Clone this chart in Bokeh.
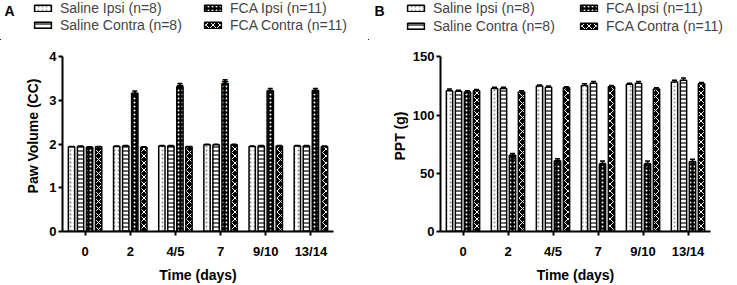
from bokeh.plotting import figure
from bokeh.models import (ColumnDataSource, Range1d, Legend, LegendItem, Whisker,
                          FixedTicker, Label, TeeHead)
from bokeh.layouts import row, column
from bokeh.core.properties import value
from bokeh.embed import file_html
from bokeh.resources import INLINE

# ---------------- data ----------------
time_labels = ["0", "2", "4/5", "7", "9/10", "13/14"]
series_names = ["Saline Ipsi (n=8)", "Saline Contra (n=8)", "FCA Ipsi (n=11)", "FCA Contra (n=11)"]

# Panel A: Paw volume (CC)
paw_saline_ipsi = [1.94, 1.95, 1.96, 1.99, 1.95, 1.96]
paw_saline_contra = [1.95, 1.96, 1.96, 1.99, 1.96, 1.96]
paw_fca_ipsi = [1.93, 3.17, 3.32, 3.39, 3.22, 3.23]
paw_fca_contra = [1.94, 1.93, 1.94, 1.99, 1.96, 1.95]
paw_saline_ipsi_err = [0.01, 0.01, 0.01, 0.01, 0.01, 0.01]
paw_saline_contra_err = [0.01, 0.01, 0.01, 0.01, 0.01, 0.01]
paw_fca_ipsi_err = [0.01, 0.05, 0.07, 0.09, 0.06, 0.05]
paw_fca_contra_err = [0.01, 0.01, 0.01, 0.01, 0.01, 0.01]
paw_star_groups = [1, 2, 3, 4, 5]

# Panel B: PPT (g)
ppt_saline_ipsi = [121.0, 123.0, 125.0, 125.5, 126.5, 128.5]
ppt_saline_contra = [120.5, 123.0, 124.0, 127.5, 127.5, 130.0]
ppt_fca_ipsi = [120.0, 65.5, 60.5, 58.0, 58.0, 60.0]
ppt_fca_contra = [121.0, 120.0, 123.5, 124.5, 122.5, 127.0]
ppt_saline_ipsi_err = [1.5, 1.0, 1.0, 1.5, 1.0, 1.5]
ppt_saline_contra_err = [1.0, 1.0, 1.0, 1.5, 1.5, 2.0]
ppt_fca_ipsi_err = [1.0, 1.5, 2.0, 2.5, 2.5, 2.0]
ppt_fca_contra_err = [1.0, 1.0, 1.0, 1.0, 1.0, 1.0]
ppt_star_groups = [1, 2, 3, 4, 5]

FONT = "Liberation Sans"
LEG_H = 40
MAIN_H = 285 - LEG_H

styles = [
    dict(fill_color="white", hatch_pattern="dot", hatch_color="#8c8c8c", hatch_scale=4, hatch_weight=1),
    dict(fill_color="white", hatch_pattern="horizontal_line", hatch_color="black", hatch_scale=4, hatch_weight=1.2),
    dict(fill_color="black", hatch_pattern="dot", hatch_color="white", hatch_scale=4, hatch_weight=3),
    dict(fill_color="black", hatch_pattern="diagonal_cross", hatch_color="white", hatch_scale=7, hatch_weight=1),
]


def build_sources(means, errs):
    n = len(series_names)
    out = []
    for j in range(n):
        xs = [i + (j - (n - 1) / 2) * 0.2 for i in range(len(time_labels))]
        out.append(ColumnDataSource(dict(x=xs, top=means[j],
                                         upper=[m + e for m, e in zip(means[j], errs[j])])))
    return out


def make_legend_fig(letter, width, sources, positions, letter_x):
    # ranges placed far away from the data so the shared bars stay off-screen here
    lf = figure(width=width, height=LEG_H, output_backend="svg", toolbar_location=None,
                x_range=Range1d(1000, 1000 + width), y_range=Range1d(1000, 1000 + LEG_H),
                min_border=0, x_axis_location=None, y_axis_location=None)
    lf.outline_line_color = None
    lf.xgrid.grid_line_color = None
    lf.ygrid.grid_line_color = None
    for j in range(len(series_names)):
        r = lf.vbar(x="x", top="top", bottom=0, width=0.14, source=sources[j],
                    line_color="black", line_width=1.5, **styles[j])
        vx, vy = positions[j]
        lg = Legend(items=[LegendItem(label=series_names[j], renderers=[r])],
                    location=(vx, vy), padding=0, margin=0, spacing=0,
                    border_line_color=None, background_fill_alpha=0,
                    label_text_font=FONT, label_text_font_size="14px",
                    glyph_width=21, glyph_height=8, label_standoff=7, label_height=14)
        lf.add_layout(lg, "center")
    lab = Label(x=letter_x, y=LEG_H - 2, x_units="screen", y_units="screen",
                text=letter, text_font=FONT, text_font_style="bold",
                text_font_size="14px", text_baseline="top", text_align="left",
                text_color="black")
    lf.add_layout(lab)
    return lf


def make_panel(ylabel, sources, means, errs, star_groups, y_top, y_step, px_per_unit,
               width, border_left, border_right, ylabel_standoff):
    frame_bottom = 237 - LEG_H
    y_end = frame_bottom / px_per_unit
    p = figure(width=width, height=MAIN_H, output_backend="svg", toolbar_location=None,
               x_range=Range1d(-0.5, 5.5), y_range=Range1d(0, y_end),
               min_border_left=border_left, min_border_right=border_right,
               min_border_top=0, min_border_bottom=MAIN_H - frame_bottom)
    p.outline_line_color = None
    p.xgrid.grid_line_color = None
    p.ygrid.grid_line_color = None

    for j, src in enumerate(sources):
        w = Whisker(source=src, base="x", lower="top", upper="upper",
                    line_color="black", line_width=1.5,
                    upper_head=TeeHead(size=5, line_width=1.5, line_color="black"),
                    lower_head=None, level="glyph")
        p.add_layout(w)
        p.vbar(x="x", top="top", bottom=0, width=0.14, source=src,
               line_color="black", line_width=1.5, **styles[j])
        if j == 2:
            xs = src.data["x"]
            sx = [xs[g] for g in star_groups]
            sy = [means[j][g] + errs[j][g] for g in star_groups]
            ssrc = ColumnDataSource(dict(x=sx, y=sy))
            p.text(x="x", y="y", text=value("*"), source=ssrc, text_align="center",
                   text_baseline="alphabetic", y_offset=6, text_font=value(FONT),
                   text_font_style="bold", text_font_size="17px", text_color="black")

    for ax in (p.xaxis[0], p.yaxis[0]):
        ax.axis_line_width = 2
        ax.axis_line_color = "black"
        ax.major_tick_line_width = 2
        ax.major_tick_line_color = "black"
        ax.major_tick_out = 4
        ax.major_tick_in = 0
        ax.minor_tick_line_color = None
        ax.major_label_text_font = FONT
        ax.major_label_text_font_style = "bold"
        ax.major_label_text_font_size = "13px"
        ax.major_label_text_color = "black"
        ax.axis_label_text_font = FONT
        ax.axis_label_text_font_style = "bold"
        ax.axis_label_text_font_size = "14px"
        ax.axis_label_text_color = "black"

    p.xaxis.ticker = FixedTicker(ticks=list(range(len(time_labels))))
    p.xaxis.major_label_overrides = {i: t for i, t in enumerate(time_labels)}
    p.xaxis.axis_label = "Time (days)"
    p.xaxis.major_label_standoff = 8
    p.xaxis.axis_label_standoff = 5

    yt = []
    v = 0
    while v <= y_top + 1e-9:
        yt.append(v)
        v += y_step
    p.yaxis.ticker = FixedTicker(ticks=yt)
    p.yaxis.bounds = (0, y_top)
    p.yaxis.axis_label = ylabel
    p.yaxis.major_label_standoff = 2
    p.yaxis.axis_label_standoff = ylabel_standoff
    return p


paw_means = [paw_saline_ipsi, paw_saline_contra, paw_fca_ipsi, paw_fca_contra]
paw_errs = [paw_saline_ipsi_err, paw_saline_contra_err, paw_fca_ipsi_err, paw_fca_contra_err]
ppt_means = [ppt_saline_ipsi, ppt_saline_contra, ppt_fca_ipsi, ppt_fca_contra]
ppt_errs = [ppt_saline_ipsi_err, ppt_saline_contra_err, ppt_fca_ipsi_err, ppt_fca_contra_err]

srcA = build_sources(paw_means, paw_errs)
srcB = build_sources(ppt_means, ppt_errs)

legA = make_legend_fig("A", 368, srcA, [(32, 24), (32, 7), (202, 24), (202, 7)], 4)
legB = make_legend_fig("B", 369, srcB, [(37, 24), (37, 6), (210, 24), (210, 6)], 6)

pA = make_panel("Paw Volume (CC)", srcA, paw_means, paw_errs, paw_star_groups,
                4, 1, 45.0, 368, 62, 35, 5)
pB = make_panel("PPT (g)", srcB, ppt_means, ppt_errs, ppt_star_groups,
                150, 50, 1.2, 369, 72, 27, 2)

layout = column(row(legA, legB), row(pA, pB))
open("out.html", "w").write(file_html(layout, INLINE))
